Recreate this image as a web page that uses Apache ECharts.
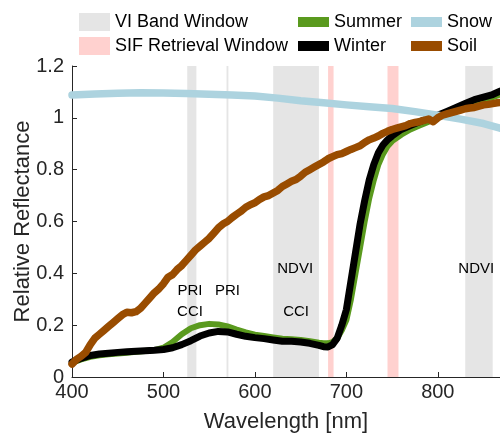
<!DOCTYPE html>
<html>
<head>
<meta charset="utf-8">
<script src="https://cdn.jsdelivr.net/npm/echarts@6/dist/echarts.min.js"></script>
<style>
  html, body { margin: 0; padding: 0; background: #fff; }
  #chart { width: 500px; height: 437px; }
</style>
</head>
<body>
<div id="chart"></div>
<script>
var dom = document.getElementById("chart");
var myChart = echarts.init(dom);

// wavelength windows [start, end] in nm
var viBands = [[526, 536], [569, 571], [620, 670], [830, 860]];
var sifBands = [[680, 686], [745, 757]];

// band labels: [text, wavelength, reflectance]
var bandLabels = [
    ['PRI', 529, 0.334], ['CCI', 529, 0.252],
    ['PRI', 570, 0.334],
    ['NDVI', 644, 0.416], ['CCI', 645, 0.252],
    ['NDVI', 842, 0.416]
];

var vegWl = [400, 410, 420, 430, 440, 450, 460, 470, 480, 490, 500, 510, 520, 530, 540, 550, 560, 570, 580, 590,
    600, 610, 620, 630, 640, 650, 660, 670, 675, 680, 685, 690, 695, 700, 705, 710, 715, 720, 725, 730,
    735, 740, 745, 750, 760, 770, 780, 790, 800, 810, 820, 830, 840, 850, 860, 868];

var summer = [0.055, 0.068, 0.078, 0.084, 0.088, 0.091, 0.094, 0.097, 0.100, 0.104, 0.113, 0.135, 0.165, 0.188, 0.200, 0.205, 0.203, 0.195, 0.183, 0.172,
    0.163, 0.158, 0.153, 0.148, 0.146, 0.143, 0.138, 0.132, 0.130, 0.130, 0.135, 0.150, 0.180, 0.220, 0.300, 0.400, 0.500, 0.600, 0.690, 0.760,
    0.820, 0.860, 0.890, 0.910, 0.935, 0.955, 0.970, 0.985, 1.000, 1.015, 1.030, 1.045, 1.060, 1.070, 1.080, 1.090];

var winter = [0.058, 0.072, 0.083, 0.089, 0.092, 0.095, 0.097, 0.099, 0.101, 0.103, 0.106, 0.113, 0.125, 0.140, 0.158, 0.170, 0.176, 0.174, 0.165, 0.157,
    0.152, 0.148, 0.143, 0.138, 0.138, 0.135, 0.130, 0.122, 0.117, 0.116, 0.125, 0.150, 0.200, 0.260, 0.370, 0.480, 0.590, 0.680, 0.760, 0.820,
    0.865, 0.895, 0.915, 0.930, 0.955, 0.970, 0.985, 0.998, 1.010, 1.025, 1.040, 1.055, 1.070, 1.080, 1.090, 1.103];

var snowWl = [400, 425, 450, 475, 500, 525, 550, 575, 600, 625, 650, 675, 700, 725, 750, 775, 800, 825, 850, 868];
var snow = [1.088, 1.092, 1.095, 1.097, 1.096, 1.094, 1.091, 1.088, 1.084, 1.076, 1.066, 1.058, 1.050, 1.043, 1.036, 1.024, 1.010, 0.995, 0.978, 0.960];

var soilWl = [400, 405, 410, 415, 420, 425, 430, 435, 440, 445, 450, 455, 460, 465, 470, 475, 480, 485, 490, 495,
    500, 505, 510, 515, 520, 525, 530, 535, 540, 545, 550, 555, 560, 565, 570, 575, 580, 585, 590, 595,
    600, 605, 610, 615, 620, 625, 630, 635, 640, 645, 650, 655, 660, 665, 670, 675, 680, 685, 690, 695,
    700, 705, 710, 715, 720, 725, 730, 735, 740, 745, 750, 755, 760, 765, 770, 775, 780, 785, 790, 795,
    800, 805, 810, 815, 820, 825, 830, 835, 840, 845, 850, 855, 860, 865, 870];
var soil = [0.050, 0.068, 0.080, 0.095, 0.125, 0.150, 0.165, 0.180, 0.195, 0.210, 0.225, 0.240, 0.250, 0.248, 0.252, 0.265, 0.285, 0.305, 0.325, 0.340,
    0.360, 0.385, 0.395, 0.415, 0.430, 0.450, 0.470, 0.490, 0.505, 0.520, 0.535, 0.555, 0.575, 0.590, 0.600, 0.615, 0.628, 0.640, 0.655, 0.665,
    0.672, 0.685, 0.695, 0.700, 0.710, 0.720, 0.735, 0.745, 0.755, 0.762, 0.775, 0.790, 0.800, 0.810, 0.820, 0.830, 0.842, 0.850, 0.858, 0.862,
    0.870, 0.878, 0.885, 0.892, 0.905, 0.915, 0.922, 0.930, 0.940, 0.948, 0.955, 0.960, 0.965, 0.970, 0.978, 0.982, 0.985, 0.990, 0.995, 0.985,
    1.000, 1.010, 1.015, 1.020, 1.025, 1.030, 1.035, 1.038, 1.040, 1.045, 1.050, 1.052, 1.055, 1.058, 1.060];

function pairs(xs, ys) {
    var out = [];
    for (var i = 0; i < xs.length; i++) out.push([xs[i], ys[i]]);
    return out;
}
function areas(bands) {
    return bands.map(function (b) { return [{ xAxis: b[0] }, { xAxis: b[1] }]; });
}

var font = 'Liberation Sans';
var grey = '#e5e5e5', pink = '#ffd1cf';
var cSummer = '#5a9a1e', cWinter = '#000000', cSnow = '#add3df', cSoil = '#994c00';

function lineSeries(name, data, color, width) {
    return {
        name: name, type: 'line', data: data, showSymbol: false, symbol: 'none',
        itemStyle: { color: color },
        lineStyle: { color: color, width: width, cap: 'round', join: 'round' },
        animation: false
    };
}

var legendText = { fontFamily: font, fontSize: 18, color: '#000', lineHeight: 18 };

option = {
    animation: false,
    grid: { left: 72, right: 0, top: 66, bottom: 60, outerBoundsMode: 'none' },
    legend: [
        { orient: 'vertical', left: 79, top: 13, padding: 0, itemWidth: 31, itemHeight: 18, itemGap: 6, icon: 'rect',
          textStyle: legendText, data: ['VI Band Window', 'SIF Retrieval Window'] },
        { orient: 'vertical', left: 298, top: 13, padding: 0, itemWidth: 31, itemHeight: 10, itemGap: 6, icon: 'rect',
          textStyle: legendText, data: ['Summer', 'Winter'] },
        { orient: 'vertical', left: 411, top: 13, padding: 0, itemWidth: 31, itemHeight: 10, itemGap: 6, icon: 'rect',
          textStyle: legendText, data: ['Snow', 'Soil'] }
    ],
    xAxis: {
        type: 'value', min: 400, max: 868, interval: 100,
        name: 'Wavelength [nm]', nameLocation: 'middle', nameGap: 34,
        nameTextStyle: { fontFamily: font, fontSize: 22, color: '#262626' },
        axisLine: { lineStyle: { color: '#262626', width: 1 } },
        axisTick: { inside: true, length: 5, lineStyle: { color: '#262626' } },
        axisLabel: { fontFamily: font, fontSize: 20, color: '#262626', margin: 5, showMaxLabel: false,
            formatter: function (v) { return v % 100 === 0 ? String(v) : ''; } },
        splitLine: { show: false }
    },
    yAxis: {
        type: 'value', min: 0, max: 1.2, interval: 0.2,
        name: 'Relative Reflectance', nameLocation: 'middle', nameGap: 38, nameMoveOverlap: false,
        nameTextStyle: { fontFamily: font, fontSize: 22, color: '#262626' },
        axisLine: { show: true, lineStyle: { color: '#262626', width: 1 } },
        axisTick: { show: true, inside: true, length: 5, lineStyle: { color: '#262626' } },
        axisLabel: { fontFamily: font, fontSize: 20, color: '#262626', margin: 8 },
        splitLine: { show: false }
    },
    series: [
        { name: 'VI Band Window', type: 'line', data: [], itemStyle: { color: grey }, lineStyle: { color: grey },
          markArea: { silent: true, itemStyle: { color: grey, opacity: 1 }, data: areas(viBands) } },
        { name: 'SIF Retrieval Window', type: 'line', data: [], itemStyle: { color: pink }, lineStyle: { color: pink },
          markArea: { silent: true, itemStyle: { color: pink, opacity: 1 }, data: areas(sifBands) } },
        {
            name: 'labels', type: 'scatter', symbolSize: 0, silent: true, z: 10,
            itemStyle: { opacity: 1 },
            data: bandLabels.map(function (d) { return { name: d[0], value: [d[1], d[2]] }; }),
            label: { show: true, position: 'inside', formatter: '{b}', fontFamily: font, fontSize: 15,
                color: '#000000', opacity: 1, textBorderWidth: 0 }
        },
        lineSeries('Summer', pairs(vegWl, summer), cSummer, 6),
        lineSeries('Winter', pairs(vegWl, winter), cWinter, 7),
        lineSeries('Snow', pairs(snowWl, snow), cSnow, 7.5),
        lineSeries('Soil', pairs(soilWl, soil), cSoil, 7.5)
    ]
};

if (option && typeof option === "object") {
    myChart.setOption(option, true);
}
</script>
</body>
</html>
